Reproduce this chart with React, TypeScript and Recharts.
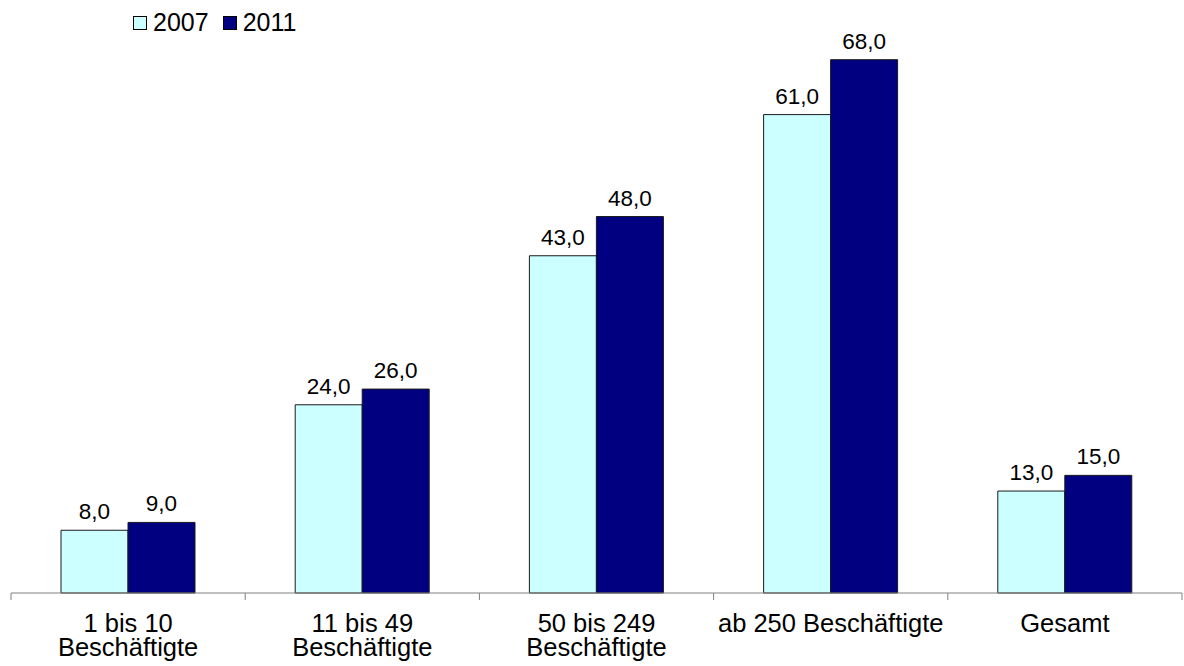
import React from "react";
import { BarChart, Bar, XAxis, YAxis, LabelList } from "recharts";

const categories = ["1 bis 10\nBeschäftigte", "11 bis 49\nBeschäftigte", "50 bis 249\nBeschäftigte", "ab 250 Beschäftigte", "Gesamt"];
const values2007 = [8, 24, 43, 61, 13];
const values2011 = [9, 26, 48, 68, 15];
const seriesNames = ["2007", "2011"];
const seriesColors = ["#CCFFFF", "#000080"];

const data = categories.map((name, i) => ({
  name,
  [seriesNames[0]]: values2007[i],
  [seriesNames[1]]: values2011[i],
}));

const FONT = "'Liberation Sans', Arial, sans-serif";
const fmt = (v: any) => Number(v).toFixed(1).replace(".", ",");

const CategoryTick = (props: any) => {
  const { x, y, payload, index, visibleTicksCount } = props;
  const half = payload.offset && payload.offset > 0 ? payload.offset : 234.2 / 2;
  const lines = String(payload.value).split("\n");
  return (
    <g>
      <line x1={x - half} x2={x - half} y1={y} y2={y + 7} stroke="#808080" />
      {index === visibleTicksCount - 1 && (
        <line x1={x + half} x2={x + half} y1={y} y2={y + 7} stroke="#808080" />
      )}
      <text x={x} y={y + 39} textAnchor="middle" fontSize={25.5} fill="#000" fontFamily={FONT}>
        {lines.map((l, i) => (
          <tspan key={i} x={x} dy={i === 0 ? 0 : 23.5}>
            {l}
          </tspan>
        ))}
      </text>
    </g>
  );
};

function ChartLegend() {
  return (
    <div
      style={{
        position: "absolute",
        left: 133,
        top: 10,
        display: "flex",
        alignItems: "center",
        fontFamily: FONT,
        fontSize: 25,
        lineHeight: "25px",
        color: "#000",
      }}
    >
      {seriesNames.map((name, i) => (
        <div key={name} style={{ display: "flex", alignItems: "center", marginRight: 14 }}>
          <span
            style={{
              width: 12,
              height: 12,
              background: seriesColors[i],
              border: "1px solid #000",
              display: "inline-block",
              marginRight: 6,
            }}
          />
          <span>{name}</span>
        </div>
      ))}
    </div>
  );
}

export default function App() {
  return (
    <div style={{ position: "absolute", left: 0, top: 0, width: 1184, height: 666, background: "#fff" }}>
      <BarChart
        width={1184}
        height={666}
        data={data}
        margin={{ top: 44, right: 2, left: 11, bottom: 0 }}
        barCategoryGap={50}
        barGap={0}
      >
        <XAxis
          dataKey="name"
          height={73}
          tickSize={0}
          tickMargin={0}
          tickLine={false}
          axisLine={{ stroke: "#808080" }}
          interval={0}
          tick={<CategoryTick />}
        />
        <YAxis hide domain={[0, 70]} />
        <Bar dataKey={seriesNames[0]} fill={seriesColors[0]} stroke="#1a1a1a" strokeWidth={1} isAnimationActive={false}>
          <LabelList dataKey={seriesNames[0]} position="top" offset={11} formatter={fmt} fill="#000" fontSize={22.5} fontFamily={FONT} />
        </Bar>
        <Bar dataKey={seriesNames[1]} fill={seriesColors[1]} stroke="#1a1a1a" strokeWidth={1} isAnimationActive={false}>
          <LabelList dataKey={seriesNames[1]} position="top" offset={11} formatter={fmt} fill="#000" fontSize={22.5} fontFamily={FONT} />
        </Bar>
      </BarChart>
      <ChartLegend />
    </div>
  );
}
